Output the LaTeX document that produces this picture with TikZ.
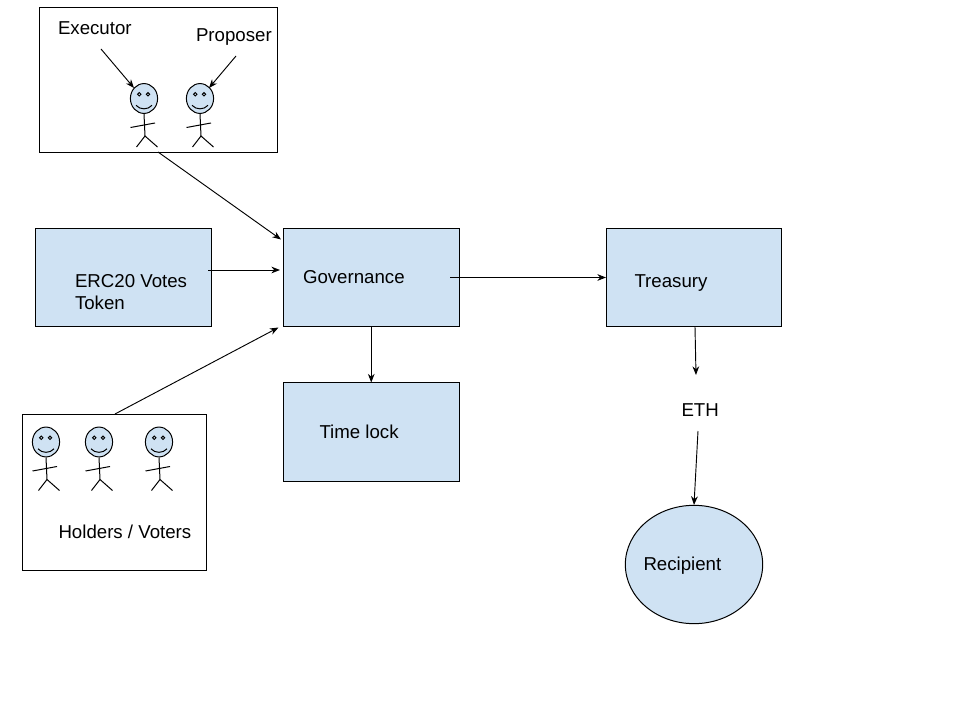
\documentclass[tikz,border=0pt]{standalone}
\usepackage{fontspec}
\setmainfont{Liberation Sans}
\usetikzlibrary{arrows.meta,shapes.geometric}
\definecolor{boxblue}{HTML}{CFE2F3}
\tikzset{
  fig/.style={draw=black,line width=0.75pt},
  bluebox/.style={draw=black,fill=boxblue,line width=0.75pt,rectangle,inner sep=0pt,outer sep=0pt},
  framebox/.style={draw=black,fill=white,line width=0.75pt,rectangle,inner sep=0pt,outer sep=0pt},
  label/.style={anchor=base west,inner sep=0pt,outer sep=0pt,font=\fontsize{14pt}{17pt}\selectfont,align=left},
  conn/.style={draw=black,line width=0.7pt,-{Stealth[length=6.5pt,width=5pt]}},
}
\newcommand{\stickman}[3]{%
  \begin{scope}[shift={(#2,#3)}]
    \draw[fig] (0,15.5) -- (1,37.5);
    \draw[fig] (-13.5,29) -- (11,24.5);
    \draw[fig] (-7.5,48.5) -- (1,37.5) -- (13.5,48.5);
    \node[draw=black,fill=boxblue,line width=0.75pt,ellipse,minimum width=20.4pt,minimum height=22.4pt,inner sep=0pt,outer sep=0pt] (#1) at (0,0) {};
    \draw[fig,line width=0.7pt] (-4.7,-4.2) circle (1.7);
    \draw[fig,line width=0.7pt] (4,-4.2) circle (1.7);
    \draw[fig] (-8,6.8) .. controls (-4,11.5) and (4,11.5) .. (8,6.8);
  \end{scope}}
\begin{document}
\begin{tikzpicture}[x=0.75pt,y=-0.75pt]
\useasboundingbox[fill=white] (0,0) rectangle (960,720);
% frames
\node[framebox,minimum width=178.5pt,minimum height=108.75pt] (top) at (158.25,80) {};
\node[framebox,minimum width=138pt,minimum height=116.75pt] (holders) at (114.5,492.4) {};
% blue boxes
\node[bluebox,minimum width=131.9pt,minimum height=73.5pt] (erc) at (123.5,277.5) {};
\node[bluebox,minimum width=132pt,minimum height=73.5pt] (gov) at (371.25,277.5) {};
\node[bluebox,minimum width=131.25pt,minimum height=73.5pt] (treasury) at (693.5,277.5) {};
\node[bluebox,minimum width=132pt,minimum height=74.25pt] (timelock) at (371.25,432) {};
\node[draw=black,fill=boxblue,line width=0.75pt,ellipse,inner sep=0pt,outer sep=0pt,minimum width=103pt,minimum height=88.75pt] (recipient) at (694,564.5) {};
% figures
\stickman{exec}{144}{98.5}
\stickman{prop}{200}{98.5}
\stickman{holdA}{46}{442}
\stickman{holdB}{99}{442}
\stickman{holdC}{159}{442}
% labels
\node[label] (lexec) at (58,35) {Executor};
\node[label] (lprop) at (196,42) {Proposer};
\node[label] (lerc) at (75,310) {ERC20 Votes\\Token};
\node[label] (lgov) at (303,284) {Governance};
\node[label] (ltre) at (634.5,287) {Treasury};
\node[label] (ltime) at (319.5,438) {Time lock};
\node[label] (lhold) at (58.5,538) {Holders / Voters};
\node[label] (leth) at (681.5,416) {ETH};
\node[label] (lrec) at (643.5,570) {Recipient};
% connector ends
\coordinate (c1) at (101,49);   \coordinate (c2) at (134,88);
\coordinate (c3) at (236,56);   \coordinate (c4) at (209,88);
\coordinate (c5) at (158,152);  \coordinate (c6) at (281,239.5);
\coordinate (c7) at (208,270);  \coordinate (c8) at (280,270);
\coordinate (c9) at (115,414);  \coordinate (c10) at (278.5,327.5);
\coordinate (c11) at (450,277.5); \coordinate (c12) at (695,327);
\coordinate (c13) at (696,375); \coordinate (c14) at (698,431);
\coordinate (c15) at (694,505); \coordinate (c16) at (606,277.5);
% connectors
\draw[conn] (c1) -- (c2);
\draw[conn] (c3) -- (c4);
\draw[conn] (c5) -- (c6);
\draw[conn] (c7) -- (c8);
\draw[conn] (c9) -- (c10);
\draw[conn] (c11) -- (c16);
\draw[conn] (gov.south) -- (timelock.north);
\draw[conn] (c12) -- (c13);
\draw[conn] (c14) -- (c15);
\end{tikzpicture}
\end{document}
